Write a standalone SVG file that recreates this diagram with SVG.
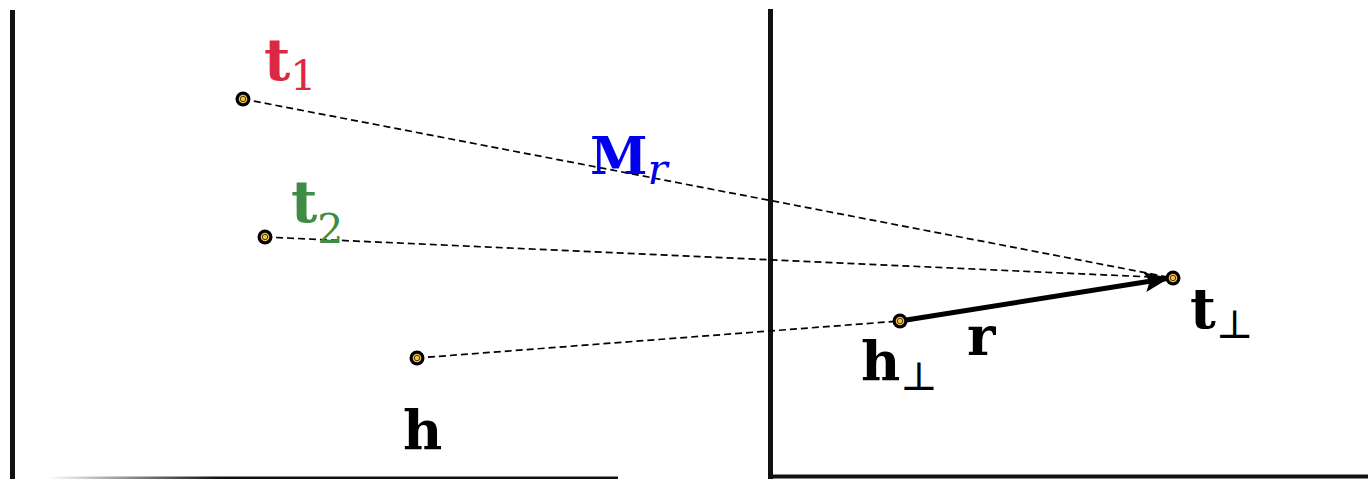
<svg xmlns="http://www.w3.org/2000/svg" width="1368" height="479" viewBox="0 0 1368 479">
<defs>
<style>
.axis{stroke:#111;fill:none;stroke-linecap:butt}
.dash{stroke:#000;stroke-width:1.7;stroke-dasharray:7 4;fill:none}
.lbl{font-family:"DejaVu Serif",serif;font-weight:bold}
.sub{font-weight:normal}
</style>
<linearGradient id="fadeL" gradientUnits="userSpaceOnUse" x1="48" y1="0" x2="618" y2="0">
<stop offset="0" stop-color="#111" stop-opacity="0"/>
<stop offset="0.3" stop-color="#111" stop-opacity="1"/>
</linearGradient>
<marker id="arr" markerWidth="5" markerHeight="4" refX="4.5" refY="2" orient="auto" markerUnits="strokeWidth">
<path d="M0,0 L5,2 L0,4 L1,2 Z" fill="#000"/>
</marker>
<g id="pt">
<circle r="7.5" fill="#000"/>
<circle r="4.3" fill="#f2c14e"/>
<circle r="2.7" fill="none" stroke="#3a2a00" stroke-width="0.9"/>
<circle r="1.8" fill="#f2c14e"/>
</g>
</defs>
<rect width="1368" height="479" fill="#fff"/>
<g id="axes">
<line class="axis" x1="12.5" y1="10" x2="12.5" y2="479" stroke-width="5"/>
<rect x="48" y="476.5" width="570" height="2.5" fill="url(#fadeL)"/>
<line class="axis" x1="770.5" y1="9" x2="770.5" y2="479" stroke-width="5"/>
<line class="axis" x1="768" y1="476.5" x2="1368" y2="476.5" stroke-width="4"/>
</g>
<g id="connectors">
<line class="dash" x1="243" y1="99" x2="1173" y2="278"/>
<line class="dash" x1="265" y1="237" x2="1173" y2="278"/>
<line class="dash" x1="417" y1="358" x2="900" y2="321"/>
<line x1="900" y1="321" x2="1167" y2="278.5" stroke="#000" stroke-width="5" marker-end="url(#arr)"/>
</g>
<g id="t1"><use href="#pt" x="243" y="99"/>
<text class="lbl" x="264" y="80" font-size="57" fill="#dc2843">t<tspan class="sub" font-size="41" dy="10">1</tspan></text></g>
<g id="t2"><use href="#pt" x="265" y="237"/>
<text class="lbl" x="291" y="222" font-size="57" fill="#3f8c45">t<tspan class="sub" font-size="41" dy="21">2</tspan></text></g>
<g id="h"><use href="#pt" x="417" y="358"/>
<text class="lbl" x="403" y="449" font-size="54" fill="#000">h</text></g>
<g id="Mr"><text class="lbl" x="590" y="174" font-size="52" fill="#0000ee">M<tspan class="sub" font-size="42" font-style="italic" dy="10">r</tspan></text></g>
<g id="hperp"><use href="#pt" x="900" y="321"/>
<text class="lbl" x="861" y="380" font-size="54" fill="#000">h<tspan class="sub" font-size="40" dy="10">⊥</tspan></text></g>
<g id="r"><text class="lbl" x="967" y="355" font-size="54" fill="#000">r</text></g>
<g id="tperp"><use href="#pt" x="1173" y="278"/>
<text class="lbl" x="1190" y="328" font-size="56" fill="#000">t<tspan class="sub" font-size="40" dy="10">⊥</tspan></text></g>
</svg>
